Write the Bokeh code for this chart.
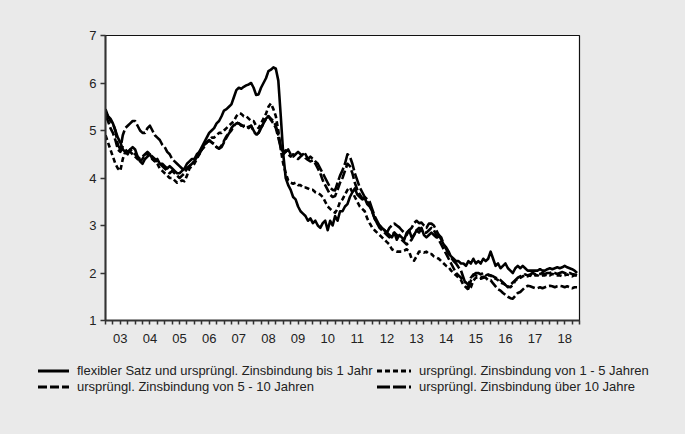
import numpy as np
from bokeh.plotting import figure
from bokeh.layouts import column
from bokeh.models import FixedTicker, Range1d, Div, GlobalInlineStyleSheet
from bokeh.embed import file_html
from bokeh.resources import INLINE

years = list(range(2003, 2019))
year_labels = ["03", "04", "05", "06", "07", "08", "09", "10",
               "11", "12", "13", "14", "15", "16", "17", "18"]
y_ticks = [1, 2, 3, 4, 5, 6, 7]

names = ["flexibler Satz und ursprüngl. Zinsbindung bis 1 Jahr",
         "ursprüngl. Zinsbindung von 1 - 5 Jahren",
         "ursprüngl. Zinsbindung von 5 - 10 Jahren",
         "ursprüngl. Zinsbindung über 10 Jahre"]

# monthly values, Jan 2003 .. Dec 2018 (one row per year)
flexibel = [
    5.45, 5.3, 5.25, 5.15, 5.0, 4.85, 4.75, 4.6, 4.55, 4.5, 4.6, 4.65,
    4.6, 4.45, 4.35, 4.3, 4.4, 4.45, 4.5, 4.4, 4.35, 4.4, 4.3, 4.3,
    4.25, 4.2, 4.25, 4.2, 4.15, 4.1, 4.1, 4.15, 4.2, 4.3, 4.35, 4.4,
    4.4, 4.5, 4.55, 4.65, 4.75, 4.85, 4.95, 5.0, 5.05, 5.15, 5.2, 5.3,
    5.42, 5.45, 5.5, 5.55, 5.7, 5.85, 5.9, 5.88, 5.92, 5.95, 5.97, 6.0,
    5.9, 5.75, 5.76, 5.9, 6.0, 6.1, 6.25, 6.28, 6.33, 6.3, 6.05, 5.3,
    4.5, 4.0, 3.85, 3.75, 3.6, 3.55, 3.4, 3.3, 3.25, 3.2, 3.1, 3.15,
    3.05, 3.1, 3.0, 2.95, 3.05, 3.1, 2.9, 3.1, 3.0, 3.2, 3.1, 3.3,
    3.3, 3.4, 3.45, 3.6, 3.7, 3.78, 3.65, 3.6, 3.55, 3.58, 3.45, 3.4,
    3.3, 3.15, 3.05, 3.0, 2.95, 2.9, 2.85, 2.8, 2.75, 2.85, 2.7, 2.8,
    2.75, 2.7, 2.85, 2.9, 2.75, 2.8, 2.9, 2.85, 2.95, 2.8, 2.75, 2.8,
    2.85, 2.8, 2.75, 2.8, 2.7, 2.6, 2.5, 2.4, 2.35, 2.3, 2.25, 2.25,
    2.2, 2.2, 2.15, 2.25, 2.2, 2.3, 2.2, 2.25, 2.2, 2.3, 2.25, 2.3,
    2.45, 2.3, 2.15, 2.2, 2.1, 2.15, 2.2, 2.1, 2.05, 2.0, 2.1, 2.15,
    2.1, 2.15, 2.1, 2.05, 2.05, 2.05, 2.05, 2.05, 2.08, 2.05, 2.05, 2.08,
    2.1, 2.08, 2.1, 2.12, 2.1, 2.12, 2.15, 2.12, 2.1, 2.08, 2.05, 2.0,
]
bis5 = [
    4.9, 4.75, 4.6, 4.45, 4.3, 4.2, 4.15, 4.4, 4.55, 4.6, 4.55, 4.5,
    4.45, 4.4, 4.35, 4.4, 4.5, 4.5, 4.45, 4.4, 4.35, 4.3, 4.2, 4.15,
    4.1, 4.05, 4.0, 4.0, 3.95, 3.9, 3.92, 3.95, 3.93, 4.05, 4.2, 4.25,
    4.3, 4.4, 4.5, 4.6, 4.65, 4.75, 4.8, 4.85, 4.85, 4.9, 4.95, 4.95,
    5.0, 5.05, 5.1, 5.15, 5.2, 5.3, 5.36, 5.35, 5.3, 5.3, 5.25, 5.2,
    5.2, 5.1, 5.05, 5.15, 5.25, 5.35, 5.5, 5.57, 5.45, 5.3, 5.0, 4.6,
    4.3, 4.1, 3.95, 3.9, 3.88, 3.9, 3.85, 3.85, 3.8, 3.8, 3.78, 3.75,
    3.75, 3.7, 3.68, 3.65, 3.6, 3.5, 3.4, 3.35, 3.3, 3.27, 3.35, 3.5,
    3.55, 3.65, 3.75, 3.8, 3.7, 3.6, 3.5, 3.4, 3.35, 3.3, 3.15, 3.05,
    2.96, 2.9, 2.85, 2.8, 2.75, 2.7, 2.65, 2.6, 2.5, 2.47, 2.45, 2.45,
    2.45, 2.47, 2.5, 2.45, 2.3, 2.26, 2.35, 2.45, 2.45, 2.43, 2.45, 2.4,
    2.4, 2.35, 2.33, 2.3, 2.25, 2.2, 2.15, 2.12, 2.05, 2.0, 1.95, 1.9,
    1.85, 1.75, 1.7, 1.65, 1.7, 1.84, 1.9, 1.9, 1.88, 1.9, 1.92, 1.95,
    1.95, 1.9, 1.88, 1.85, 1.8, 1.78, 1.75, 1.72, 1.7, 1.75, 1.84, 1.88,
    1.9, 1.93, 1.95, 1.93, 1.95, 1.92, 1.95, 1.95, 1.93, 1.95, 1.95, 1.97,
    1.95, 1.98, 1.97, 1.95, 1.95, 1.93, 1.95, 1.97, 1.95, 1.93, 1.95, 1.95,
]
bis10 = [
    5.3, 5.2, 5.05, 4.95, 4.8, 4.6, 4.55, 4.65, 4.6, 4.55, 4.6, 4.55,
    4.5, 4.45, 4.4, 4.45, 4.5, 4.55, 4.5, 4.45, 4.4, 4.35, 4.3, 4.25,
    4.2, 4.15, 4.1, 4.15, 4.1, 4.05, 4.0, 4.05, 4.1, 4.2, 4.25, 4.3,
    4.35, 4.45, 4.55, 4.6, 4.7, 4.75, 4.78, 4.75, 4.72, 4.65, 4.62, 4.68,
    4.78, 4.88, 4.95, 5.05, 5.12, 5.17, 5.15, 5.12, 5.08, 5.05, 5.08, 5.1,
    4.98, 4.92, 4.95, 5.05, 5.15, 5.25, 5.3, 5.22, 5.15, 5.05, 4.85, 4.64,
    4.55, 4.58, 4.5, 4.45, 4.5, 4.45, 4.4, 4.45, 4.5, 4.42, 4.38, 4.35,
    4.37, 4.3, 4.2, 4.1, 3.95, 3.85, 3.75, 3.65, 3.6, 3.62, 3.75, 3.9,
    4.0, 4.15, 4.3, 4.25, 4.1, 3.9, 3.75, 3.65, 3.58, 3.55, 3.5, 3.45,
    3.3, 3.15, 3.05, 2.95, 2.9, 2.85, 2.8, 2.75, 2.8, 2.85, 2.8, 2.75,
    2.7, 2.65, 2.6, 2.65, 2.7, 2.8, 2.9, 2.95, 2.9, 2.85, 2.85, 2.9,
    2.95, 2.9, 2.8, 2.7, 2.6, 2.5, 2.4, 2.3, 2.2, 2.1, 2.0, 1.95,
    1.9, 1.85, 1.8, 1.75, 1.9, 1.97, 1.95, 1.93, 1.9, 1.92, 1.9, 1.85,
    1.85, 1.78, 1.72, 1.66, 1.63, 1.58, 1.54, 1.5, 1.47, 1.46, 1.52, 1.58,
    1.6, 1.65, 1.7, 1.73, 1.72, 1.7, 1.68, 1.68, 1.7, 1.68, 1.7, 1.72,
    1.73, 1.72, 1.7, 1.72, 1.73, 1.72, 1.7, 1.72, 1.7, 1.68, 1.7, 1.7,
]
ueber10 = [
    5.4, 5.3, 5.2, 5.15, 5.0, 4.7, 4.6, 4.9, 5.05, 5.1, 5.15, 5.2,
    5.2, 5.1, 5.0, 4.95, 4.95, 5.05, 5.1, 5.0, 4.9, 4.85, 4.8, 4.7,
    4.65, 4.55, 4.5, 4.4, 4.35, 4.3, 4.25, 4.2, 4.15, 4.2, 4.25, 4.3,
    4.35, 4.45, 4.5, 4.6, 4.7, 4.75, 4.8, 4.75, 4.7, 4.65, 4.62, 4.65,
    4.75, 4.85, 4.94, 5.0, 5.1, 5.15, 5.15, 5.1, 5.1, 5.1, 5.05, 5.1,
    5.0, 4.9, 4.95, 5.05, 5.15, 5.25, 5.3, 5.25, 5.2, 5.1, 4.9, 4.65,
    4.5, 4.55, 4.6, 4.5, 4.45, 4.5, 4.55, 4.5, 4.45, 4.5, 4.4, 4.45,
    4.4, 4.35, 4.3, 4.2, 4.1, 4.0, 3.9, 3.8, 3.75, 3.74, 3.9, 4.05,
    4.16, 4.3, 4.5, 4.45, 4.3, 4.1, 3.95, 3.8, 3.7, 3.6, 3.55, 3.5,
    3.35, 3.2, 3.1, 3.0, 2.95, 2.9, 2.85, 2.95, 3.0, 3.04, 3.0, 2.96,
    2.9, 2.85, 2.8, 2.9, 2.95, 3.05, 3.1, 3.05, 3.06, 3.0, 2.95, 3.04,
    3.04, 3.0, 2.9, 2.8, 2.75, 2.6, 2.54, 2.45, 2.33, 2.25, 2.2, 2.12,
    2.05, 1.9, 1.75, 1.67, 1.84, 1.95, 2.0, 2.0, 1.97, 2.0, 1.95, 1.97,
    1.95, 1.93, 1.9, 1.88, 1.85, 1.8, 1.75, 1.7, 1.75, 1.8, 1.85, 1.9,
    1.93, 1.95, 1.97, 1.95, 1.97, 2.0, 1.98, 1.97, 1.98, 2.0, 1.98, 2.0,
    2.0, 2.02, 2.0, 1.98, 2.0, 2.02, 2.0, 1.98, 2.0, 1.98, 1.97, 1.95,
]

t = 2003 + np.arange(len(flexibel)) / 12.0

FONT = "Liberation Sans"
BG = "#eaeaea"
dashes = ["solid", "5 3", "9 3", "13 3"]
series = [flexibel, bis5, bis10, ueber10]

# ---------------- main chart ----------------
p = figure(width=685, height=350, output_backend="svg", toolbar_location=None,
           x_range=Range1d(2003, 2019), y_range=Range1d(1, 7),
           min_border_left=105, min_border_right=106, min_border_top=35,
           min_border_bottom=30)
p.border_fill_color = BG
p.background_fill_color = "white"
p.outline_line_color = "#111111"
p.outline_line_width = 1.2
p.xgrid.visible = False
p.ygrid.visible = False
p.stylesheets = [GlobalInlineStyleSheet(css="html, body { background: #eaeaea; }")]

for dash, vals in zip(dashes, series):
    p.line(t, vals, line_color="black", line_width=2.6, line_dash=dash,
           line_join="round")

xa = p.xaxis[0]
mids = [y + 0.5 for y in years]
xa.ticker = FixedTicker(ticks=mids, minor_ticks=[2003 + q / 4 for q in range(65)])
xa.major_label_overrides = {m: lab for m, lab in zip(mids, year_labels)}
xa.major_tick_out = 0
xa.major_tick_in = 0
xa.minor_tick_out = 4
xa.minor_tick_in = 0
xa.minor_tick_line_color = "#333333"
xa.minor_tick_line_width = 1.5
xa.major_label_standoff = 9
xa.axis_line_color = "#333333"
xa.axis_line_width = 2
xa.major_label_text_font = FONT
xa.major_label_text_font_size = "13px"
xa.major_label_text_color = "#222222"

ya = p.yaxis[0]
ya.ticker = FixedTicker(ticks=y_ticks, minor_ticks=[])
ya.major_tick_out = 5
ya.major_tick_in = 0
ya.major_tick_line_color = "#333333"
ya.major_tick_line_width = 1.5
ya.minor_tick_out = 0
ya.minor_tick_in = 0
ya.major_label_standoff = 4
ya.axis_line_color = "#333333"
ya.axis_line_width = 2
ya.major_label_text_font = FONT
ya.major_label_text_font_size = "13px"
ya.major_label_text_color = "#222222"

# ---------------- legend strip (HTML) ----------------
def legend_item(x, yc, dash, label, gw):
    da = "" if dash == "solid" else f' stroke-dasharray="{dash.replace(" ", ",")}"'
    return (
        f'<div style="position:absolute;left:{x}px;top:{yc - 8}px;height:16px;'
        f'white-space:nowrap;font-family:\'Liberation Sans\',Arial,sans-serif;'
        f'font-size:13px;line-height:16px;color:#222222;">'
        f'<svg width="{gw}" height="16" style="vertical-align:top;display:inline-block">'
        f'<line x1="0" y1="8" x2="{gw}" y2="8" stroke="black" stroke-width="3"{da}/></svg>'
        f'<span style="margin-left:8px;vertical-align:top">{label}</span></div>'
    )


pos = [(38, 21), (377, 21), (38, 37), (377, 37)]
gws = [31, 34, 31, 34]
html = ('<div style="position:relative;width:685px;height:84px;background:#eaeaea;">'
        + "".join(legend_item(x, yc, d, n, g)
                  for (x, yc), d, n, g in zip(pos, dashes, names, gws))
        + "</div>")
legend_div = Div(text=html, width=685, height=84, margin=(0, 0, 0, 0),
                 styles={"background-color": BG})

layout = column(p, legend_div, spacing=0)
open("out.html", "w").write(file_html(layout, INLINE))
